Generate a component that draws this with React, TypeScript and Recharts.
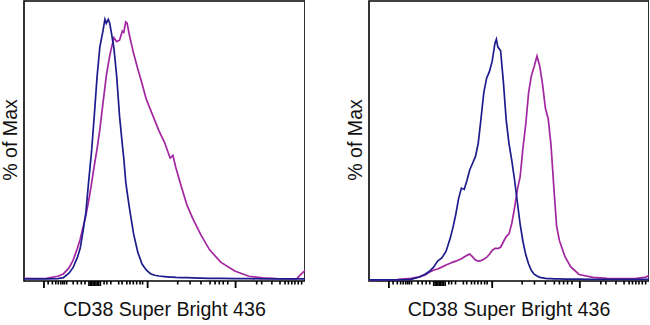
import { LineChart, Line, XAxis, YAxis, ReferenceArea, Label } from 'recharts'

// channel scale 0..1000 across the plot frame
const leftChannels = [0, 40, 80, 120, 140, 160, 175, 190, 200, 210, 220, 230, 240, 250, 260, 270, 280, 288, 293, 300, 305, 310, 320, 330, 340, 350, 355, 362, 367, 375, 390, 405, 420, 435, 450, 465, 480, 500, 520, 530, 540, 560, 580, 600, 630, 660, 700, 750, 800, 850, 900, 950, 970, 985, 1000]
const leftBlue = [0.8, 0.8, 0.8, 0.9, 1.3, 3, 5.2, 9, 12.5, 19, 26, 38, 49, 63, 78, 89.5, 95, 100, 98.5, 100, 98.5, 95.5, 89, 78, 63, 52, 47, 38, 34, 28, 18, 11, 6.5, 4.2, 2.8, 2.2, 1.9, 1.7, 1.5, 1.5, 1.4, 1.3, 1.3, 1.2, 1.1, 1, 1, 0.9, 0.9, 0.8, 0.8, 0.8, 0.8, 0.8, 0.8]
const leftMagenta = [1, 0.9, 1, 1.8, 2.7, 5, 8, 12.5, 16, 20.5, 25, 30.5, 37, 44, 50.5, 58, 67, 74, 78.5, 83, 86, 88.5, 93, 91.5, 92, 95.5, 95, 99, 98.5, 94, 87, 81, 75.5, 69.5, 65.5, 61.5, 57.5, 53, 47, 48, 43.5, 36, 29, 24, 17.5, 12, 7.2, 3.8, 1.8, 1.2, 0.9, 0.8, 0.8, 2.5, 4]

const rightChannels = [0, 50, 100, 150, 180, 200, 215, 230, 245, 260, 275, 290, 300, 310, 320, 330, 340, 350, 360, 370, 380, 390, 400, 410, 420, 430, 440, 450, 455, 460, 470, 480, 490, 500, 510, 520, 530, 540, 550, 560, 570, 580, 590, 600, 610, 620, 630, 640, 650, 660, 670, 680, 700, 720, 750, 800, 850, 900, 950, 990, 1000]
const rightBlue = [0.4, 0.4, 0.4, 0.6, 1.5, 2.6, 3.6, 5.2, 7.6, 8.8, 11.3, 16.3, 20.5, 25.5, 31.5, 35.5, 35, 38.5, 42.5, 45, 47.5, 52.5, 62, 72, 77.5, 80, 84, 91, 92.4, 89.5, 88, 76, 61.5, 52.5, 46, 38.5, 30, 21.5, 15, 10, 6.5, 4, 2.6, 1.9, 1.4, 1.2, 1, 0.9, 0.9, 0.8, 0.8, 0.8, 0.7, 0.7, 0.7, 0.6, 0.6, 0.6, 0.6, 0.6, 0.6]
const rightMagenta = [0.3, 0.4, 0.5, 1, 1.6, 2.3, 3.3, 4.1, 4.6, 5.3, 6.1, 6.8, 7.2, 7.6, 8, 8.5, 9.2, 9.8, 10.3, 9.2, 8, 7.6, 7.8, 8.3, 9, 10.2, 11.7, 12.5, 12.5, 12.4, 12.9, 15, 17, 18, 22, 28, 35, 40, 51, 60, 72, 78.5, 82, 86, 82, 75, 66, 62, 52, 36, 21, 15.5, 9.3, 5.5, 2.5, 1.4, 1, 0.9, 0.9, 1.5, 2.2]

// biexponential axis ticks, no labels in the reference
const majorTicks = [71, 440, 753]
const zeroTicks = [231, 236, 241, 246, 251, 256, 261, 266, 272]
const minorTicks = [86, 101, 113, 122, 131, 138, 144, 152, 175, 190, 204, 217, 285, 295, 309, 337, 349, 366, 377, 389, 401, 413, 422, 547, 591, 630, 662, 680, 695, 709, 725, 828, 846, 882, 911, 929, 941, 953, 964, 976, 988]
const allTicks = [...majorTicks, ...zeroTicks, ...minorTicks].sort((a, b) => a - b)

const xTitle = 'CD38 Super Bright 436'
const yTitle = '% of Max'

const BLUE = '#1c1c8c'
const MAGENTA = '#a2269f'
const FONT = '"Liberation Sans", Arial, sans-serif'

function AxisTick(props: any) {
  const { x, y, payload } = props
  const v = payload.value
  const isMajor = majorTicks.includes(v)
  const isZero = zeroTicks.includes(v)
  const len = isMajor ? 7 : isZero ? 5 : 3.5
  return <line x1={x} x2={x} y1={y} y2={y + len} stroke="#000" strokeWidth={isMajor ? 1.8 : 1.6} />
}

function XTitle(props: any) {
  const vb = props.viewBox
  return (
    <text x={vb.x + vb.width / 2} y={vb.y + 35} textAnchor="middle" fontSize={19.6} fontFamily={FONT} fill="#111">
      {xTitle}
    </text>
  )
}

function YTitle(props: any) {
  const vb = props.viewBox
  const cx = 16.5
  const cy = vb.y + vb.height / 2 - 1
  return (
    <text x={cx} y={cy} transform={`rotate(-90 ${cx} ${cy})`} textAnchor="middle" fontSize={19.6} fontFamily={FONT} fill="#111">
      {yTitle}
    </text>
  )
}

function Panel({ channels, blue, magenta, width, left }: { channels: number[]; blue: number[]; magenta: number[]; width: number; left: number }) {
  const data = channels.map((x, i) => ({ x, blue: blue[i], magenta: magenta[i] }))
  return (
    <div style={{ position: 'absolute', left, top: 0 }}>
      <LineChart width={width} height={325} data={data} margin={{ top: 1, right: 0, bottom: 0, left: 0 }}>
        <XAxis
          dataKey="x"
          type="number"
          domain={[0, 1000]}
          allowDataOverflow
          ticks={allTicks}
          interval={0}
          tick={<AxisTick />}
          tickLine={false}
          axisLine={false}
          tickSize={0}
          tickMargin={0}
          height={44}
        >
          <Label content={<XTitle />} />
        </XAxis>
        <YAxis type="number" domain={[0, 107]} allowDataOverflow tick={false} tickLine={false} axisLine={false} width={24}>
          <Label content={<YTitle />} />
        </YAxis>
        <ReferenceArea x1={0} x2={1000} y1={0} y2={107} fill="none" stroke="#000" strokeWidth={1.6} ifOverflow="visible" />
        <Line type="linear" dataKey="magenta" stroke={MAGENTA} strokeWidth={1.7} dot={false} isAnimationActive={false} />
        <Line type="linear" dataKey="blue" stroke={BLUE} strokeWidth={1.7} dot={false} isAnimationActive={false} />
      </LineChart>
    </div>
  )
}

export default function App() {
  return (
    <div style={{ position: 'absolute', left: 0, top: 0, width: 650, height: 325, background: '#fff', overflow: 'hidden' }}>
      <Panel channels={leftChannels} blue={leftBlue} magenta={leftMagenta} width={305} left={0} />
      <Panel channels={rightChannels} blue={rightBlue} magenta={rightMagenta} width={304} left={345} />
    </div>
  )
}
